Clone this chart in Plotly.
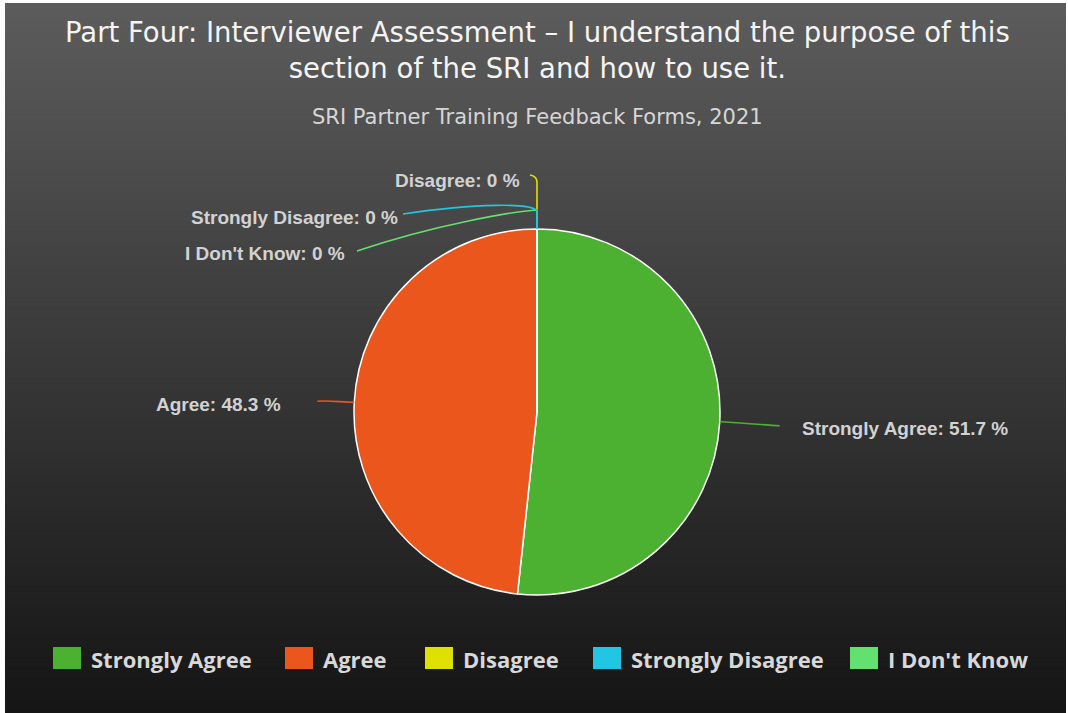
import math
import plotly.graph_objects as go

# ---- data -------------------------------------------------------------
categories = ["Strongly Agree", "Agree", "Disagree", "Strongly Disagree", "I Don't Know"]
percentages = [51.7, 48.3, 0, 0, 0]
colors = ["#4cb030", "#ea561c", "#e0e000", "#22c6e4", "#62e070"]

title_text = "Part Four: Interviewer Assessment – I understand the purpose of this<br>section of the SRI and how to use it."
subtitle_text = "SRI Partner Training Feedback Forms, 2021"

# ---- canvas geometry (pixels) -----------------------------------------
W, H = 1068, 713
CX, CY, R = 537, 412, 183


def px(x):
    return x / W


def py(y):
    return 1 - y / H


fig = go.Figure()

fig.add_trace(go.Pie(
    labels=categories,
    values=percentages,
    marker=dict(colors=colors, line=dict(color="#ffffff", width=1.5)),
    sort=False,
    direction="clockwise",
    rotation=0,
    textinfo="none",
    hoverinfo="skip",
    showlegend=False,
    domain=dict(x=[px(CX - R), px(CX + R)], y=[py(CY + R), py(CY - R)]),
))

shapes = []

# vertical background gradient, framed by a thin white edge.
# Each band runs to the bottom so successive bands overlap without seams.
top_v, bot_v = 0x5c, 0x15
x0, x1 = 5, 1066
y_top = 3
bands = 140
for i in range(bands):
    t = i / (bands - 1)
    v = round(top_v + (bot_v - top_v) * t)
    ya = y_top + (H - y_top) * i / bands
    shapes.append(dict(type="rect", xref="paper", yref="paper",
                       x0=px(x0), x1=px(x1), y0=0, y1=py(ya),
                       fillcolor=f"rgb({v},{v},{v})", line=dict(width=0),
                       layer="below"))

# ---- slice labels with leader lines -----------------------------------
total = sum(percentages)
anchors = []
acc = 0
for v in percentages:
    mid = (acc + v / 2) / total * 2 * math.pi
    anchors.append((CX + R * math.sin(mid), CY - R * math.cos(mid)))
    acc += v

# leader path (relative pixel offsets from the slice anchor) and label placement
leader_paths = [
    [("M", 0, 0), ("C", 20, 1, 40, 3, 60, 4)],
    [("M", 0, 0), ("C", -12, 0, -25, -2, -37, -1)],
    [("M", 0, -20), ("L", 0, -47), ("C", 0, -51, -2, -53, -7, -54)],
    [("M", 0, 0), ("L", 0, -18), ("C", -5, -26, -60, -26, -134, -15)],
    [("M", 0, 0), ("L", 0, -19), ("C", -20, -18, -100, -5, -180, 22)],
]
label_offsets = [(80, 7, "left"), (-71, 2, "right"), (-15, -49, "right"),
                 (-137, -12, "right"), (-190, 25, "right")]

draw_order = [4, 2, 3, 1, 0]
for i in draw_order:
    ax, ay = anchors[i]
    parts = []
    for seg in leader_paths[i]:
        cmd, nums = seg[0], seg[1:]
        pts = []
        for k in range(0, len(nums), 2):
            pts.append(f"{px(ax + nums[k]):.5f},{py(ay + nums[k + 1]):.5f}")
        parts.append(cmd + " " + " ".join(pts))
    shapes.append(dict(type="path", xref="paper", yref="paper",
                       path=" ".join(parts),
                       line=dict(color=colors[i], width=1.6)))

annotations = []
for i, (cat, val) in enumerate(zip(categories, percentages)):
    ax, ay = anchors[i]
    dx, dy, anchor = label_offsets[i]
    val_txt = f"{val:g}"
    annotations.append(dict(
        x=px(ax + dx), y=py(ay + dy), xref="paper", yref="paper",
        text=f"{cat}: {val_txt} %", showarrow=False,
        xanchor=anchor, yanchor="middle",
        font=dict(family="Liberation Sans, Arial, sans-serif", size=19,
                  color="#d2d2d2", weight="bold"),
    ))

# ---- titles -------------------------------------------------------------
annotations.append(dict(
    x=px(537), y=py(50), xref="paper", yref="paper", text=title_text,
    showarrow=False, xanchor="center", yanchor="middle",
    font=dict(family="DejaVu Sans, sans-serif", size=27.5, color="#f4f4f4"),
))
annotations.append(dict(
    x=px(537), y=py(117), xref="paper", yref="paper", text=subtitle_text,
    showarrow=False, xanchor="center", yanchor="middle",
    font=dict(family="DejaVu Sans, sans-serif", size=21, color="#d6d6d6"),
))

# ---- legend -------------------------------------------------------------
legend_box_left = [53, 285, 425, 593, 850]
box_w, box_h, legend_y = 28, 22, 658
for i, cat in enumerate(categories):
    bx = legend_box_left[i]
    shapes.append(dict(type="rect", xref="paper", yref="paper",
                       x0=px(bx), x1=px(bx + box_w),
                       y0=py(legend_y + box_h / 2), y1=py(legend_y - box_h / 2),
                       fillcolor=colors[i], line=dict(width=0)))
    annotations.append(dict(
        x=px(bx + box_w + 8), y=py(legend_y + 1), xref="paper", yref="paper",
        text=cat, showarrow=False, xanchor="left", yanchor="middle",
        font=dict(family="Open Sans, sans-serif", size=22, color="#d8d8d8",
                  weight="bold"),
    ))

fig.update_layout(
    width=W, height=H,
    margin=dict(l=0, r=0, t=0, b=0),
    paper_bgcolor="#ffffff",
    plot_bgcolor="rgba(0,0,0,0)",
    shapes=shapes,
    annotations=annotations,
    showlegend=False,
)

fig.write_html("out.html", config={"displayModeBar": False})
